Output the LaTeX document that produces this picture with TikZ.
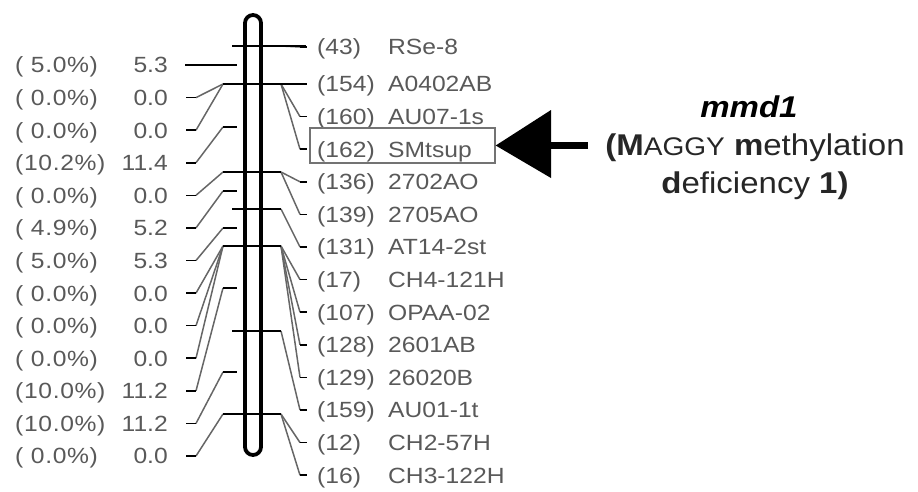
\documentclass[tikz,border=0pt]{standalone}
\usepackage{fontspec}
\setmainfont{Liberation Sans}
\newfontfamily\labfont[FakeStretch=1.12]{Liberation Sans}
\newfontfamily\pctfont[FakeStretch=1.12,LetterSpace=3]{Liberation Sans}
\newfontfamily\genefont[FakeStretch=1.1]{Liberation Sans}
\begin{document}
\begin{tikzpicture}[x=1pt,y=-1pt,
  tick/.style={line width=1.8pt, black},
  stub/.style={line width=1.6pt, black},
  link/.style={line width=1.5pt, black!60},
  lbl/.style={inner sep=0pt, text=black!65, anchor=base west,
    font=\labfont\fontsize{22}{22}\selectfont},
  pctlbl/.style={lbl, font=\pctfont\fontsize{22}{22}\selectfont},
  genetxt/.style={inner sep=0pt, text=black!85,
    font=\genefont\fontsize{30}{30}\selectfont}]
\useasboundingbox (0,0) rectangle (918,491);

% marker-to-label links on the left (percentage, position, label row, tick row)
\foreach \pct/\num/\ly/\ty [count=\i] in {
  {( 5.0\%)}/5.3/65/65, {( 0.0\%)}/0.0/97.6/84, {( 0.0\%)}/0.0/130.2/84,
  {(10.2\%)}/11.4/162.7/127, {( 0.0\%)}/0.0/195.3/172, {( 4.9\%)}/5.2/227.9/191,
  {( 5.0\%)}/5.3/260.5/228, {( 0.0\%)}/0.0/293.1/246, {( 0.0\%)}/0.0/325.6/246,
  {( 0.0\%)}/0.0/358.2/246, {(10.0\%)}/11.2/390.8/288, {(10.0\%)}/11.2/423.4/372,
  {( 0.0\%)}/0.0/456/414} {
  \node[pctlbl] (pct\i) at (15,\ly+7.9) {\pct};
  \node[lbl, anchor=base east] (num\i) at (168,\ly+7.9) {\num};
  \coordinate (ld\i) at (186,\ly);
  \coordinate (lk\i) at (196,\ly);
  \coordinate (lt\i) at (223,\ty);
  \draw[link] (lk\i) -- (lt\i);
  \draw[stub] (ld\i) -- (lk\i);
}

% marker names on the right (order, name, label row, tick row)
\foreach \id/\nm/\ly/\ty [count=\i] in {
  43/RSe-8/47/46, 154/A0402AB/84/84, 160/AU07-1s/116.6/84,
  162/SMtsup/149.2/84, 136/2702AO/181.8/172, 139/2705AO/214.4/172,
  131/AT14-2st/247/209, 17/CH4-121H/279.6/246, 107/OPAA-02/312.2/246,
  128/2601AB/344.8/246, 129/26020B/377.4/246, 159/AU01-1t/410/331,
  12/CH2-57H/442.6/414, 16/CH3-122H/475.2/414} {
  \node[lbl] (id\i) at (317,\ly+7.9) {(\id)};
  \node[lbl] (nm\i) at (388,\ly+7.9) {\nm};
  \coordinate (rt\i) at (281,\ty);
  \coordinate (rk\i) at (300,\ly);
  \coordinate (rd\i) at (307,\ly);
  \draw[link] (rt\i) -- (rk\i);
  \draw[stub] (rk\i) -- (rd\i);
}

% chromosome bar
\node[draw, line width=3.8pt, rounded corners=8pt, minimum width=16pt,
  minimum height=440pt, inner sep=0pt] (chrom) at (253,235) {};

% marker ticks
\draw[tick] (232,46) -- (306,46);
\draw[tick] (185,65) -- (237,65);
\draw[tick] (223,84) -- (306,84);
\draw[tick] (223,127) -- (237,127);
\draw[tick] (223,172) -- (281,172);
\draw[tick] (223,191) -- (237,191);
\draw[tick] (232,209) -- (281,209);
\draw[tick] (223,228) -- (237,228);
\draw[tick] (223,246) -- (281,246);
\draw[tick] (223,288) -- (237,288);
\draw[tick] (232,331) -- (281,331);
\draw[tick] (223,372) -- (237,372);
\draw[tick] (223,414) -- (281,414);

% highlighted marker
\node[draw=black!55, line width=1.4pt, minimum width=185pt, minimum height=35pt,
  inner sep=0pt] (hit) at (402.5,145.5) {};

% pointer
\coordinate (shaftend) at (588,145);
\coordinate (base) at (551,145);
\draw[line width=7pt] (shaftend) -- (base);
\fill (hit.east) -- (551,110) -- (551,178) -- cycle;

% gene name
\node[genetxt, font=\genefont\fontsize{30}{30}\selectfont\bfseries\itshape, text=black]
  (gene) at (749,107) {mmd1};
\node[genetxt] (desc1) at (755,148)
  {\textbf{(M}{\fontsize{25.5}{25.5}\selectfont AGGY} \textbf{m}ethylation};
\node[genetxt] (desc2) at (755,186)
  {\textbf{d}eficiency \textbf{1)}};
\end{tikzpicture}
\end{document}
